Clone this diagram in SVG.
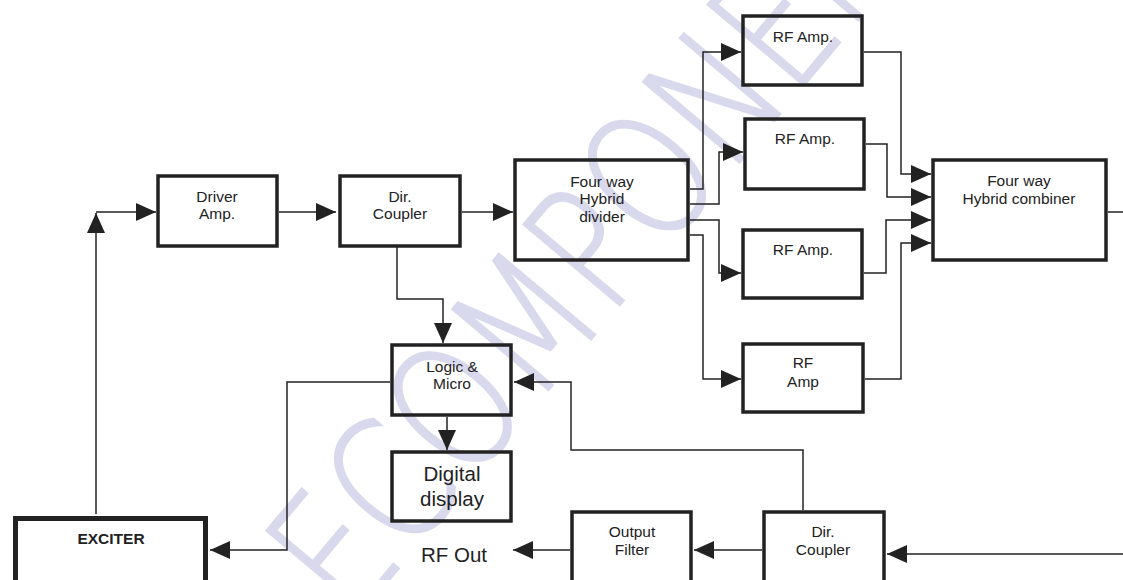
<svg xmlns="http://www.w3.org/2000/svg" width="1123" height="580" viewBox="0 0 1123 580">
<defs>
<style>
.box{fill:none;stroke:#222;stroke-width:3.5}
.exc{stroke-width:5}
.ln{fill:none;stroke:#222;stroke-width:1.5;marker-end:url(#ah)}
.pl{fill:none;stroke:#222;stroke-width:1.5}
.t{font-family:"Liberation Sans",Arial,sans-serif;font-size:15.5px;fill:#222;text-anchor:middle}
.big{font-size:20.5px}
.b{font-weight:bold}
.wm{font-family:"DejaVu Sans",sans-serif;font-weight:200;font-size:172px;fill:#d9d9ee;stroke:#d9d9ee;stroke-width:2.5}
</style>
<marker id="ah" markerUnits="userSpaceOnUse" markerWidth="20" markerHeight="18" refX="20" refY="9" orient="auto">
<path d="M0,0 L20,9 L0,18 z" fill="#222"/>
</marker>
</defs>
<rect width="1123" height="580" fill="#fff"/>
<g id="watermark">
<text class="wm" transform="translate(352,624) rotate(-50) scale(0.78,1)">ECOMPONENTS</text>
</g>
<g id="connectors">
<path class="ln" d="M96,514 V213"/>
<path class="ln" d="M96,212 H156"/>
<path class="ln" d="M279,212 H336"/>
<path class="ln" d="M462,212 H513"/>
<path class="ln" d="M690,189 H703 V52 H741"/>
<path class="ln" d="M690,204 H719 V152 H743"/>
<path class="ln" d="M690,220 H719 V273 H741"/>
<path class="ln" d="M690,235 H703 V379 H741"/>
<path class="ln" d="M864,52 H901 V174 H931"/>
<path class="ln" d="M866,144 H887 V197 H931"/>
<path class="ln" d="M864,273 H886 V220 H931"/>
<path class="ln" d="M865,379 H901 V243 H931"/>
<path class="pl" d="M1108,212 H1123"/>
<path class="ln" d="M397,247 V299 H443 V343"/>
<path class="ln" d="M447,417 V450"/>
<path class="ln" d="M390,382 H287 V550 H210"/>
<path class="ln" d="M803,510 V450 H571 V382 H514"/>
<path class="ln" d="M1123,554 H887"/>
<path class="ln" d="M762,550 H694"/>
<path class="ln" d="M570,550 H513"/>
</g>
<g id="driver-amp"><rect class="box" x="158" y="176" width="119" height="70"/><text class="t" x="217" y="202">Driver</text><text class="t" x="217" y="219">Amp.</text></g>
<g id="dir-coupler-1"><rect class="box" x="340" y="176" width="120" height="70"/><text class="t" x="400" y="202">Dir.</text><text class="t" x="400" y="219">Coupler</text></g>
<g id="hybrid-divider"><rect class="box" x="515" y="160" width="173" height="100"/><text class="t" x="602" y="187">Four way</text><text class="t" x="602" y="204">Hybrid</text><text class="t" x="602" y="222">divider</text></g>
<g id="rf-amp-1"><rect class="box" x="743" y="16" width="119" height="69"/><text class="t" x="803" y="42">RF Amp.</text></g>
<g id="rf-amp-2"><rect class="box" x="745" y="119" width="119" height="70"/><text class="t" x="805" y="144">RF Amp.</text></g>
<g id="rf-amp-3"><rect class="box" x="743" y="230" width="119" height="68"/><text class="t" x="803" y="255">RF Amp.</text></g>
<g id="rf-amp-4"><rect class="box" x="743" y="344" width="120" height="68"/><text class="t" x="803" y="368">RF</text><text class="t" x="803" y="387">Amp</text></g>
<g id="hybrid-combiner"><rect class="box" x="933" y="160" width="173" height="100"/><text class="t" x="1019" y="186">Four way</text><text class="t" x="1019" y="204">Hybrid combiner</text></g>
<g id="logic-micro"><rect class="box" x="392" y="345" width="119" height="70"/><text class="t" x="452" y="372">Logic &amp;</text><text class="t" x="452" y="389">Micro</text></g>
<g id="digital-display"><rect class="box" x="392" y="452" width="119" height="69"/><text class="t big" x="452" y="481">Digital</text><text class="t big" x="452" y="506">display</text></g>
<g id="exciter"><rect class="box exc" x="15.5" y="518.5" width="190" height="80"/><text class="t b" x="111" y="544">EXCITER</text></g>
<g id="rf-out"><text class="t big" x="454" y="562">RF Out</text></g>
<g id="output-filter"><rect class="box" x="572" y="512" width="119" height="80"/><text class="t" x="632" y="537">Output</text><text class="t" x="632" y="555">Filter</text></g>
<g id="dir-coupler-2"><rect class="box" x="764" y="512" width="120" height="80"/><text class="t" x="823" y="537">Dir.</text><text class="t" x="823" y="555">Coupler</text></g>
</svg>
